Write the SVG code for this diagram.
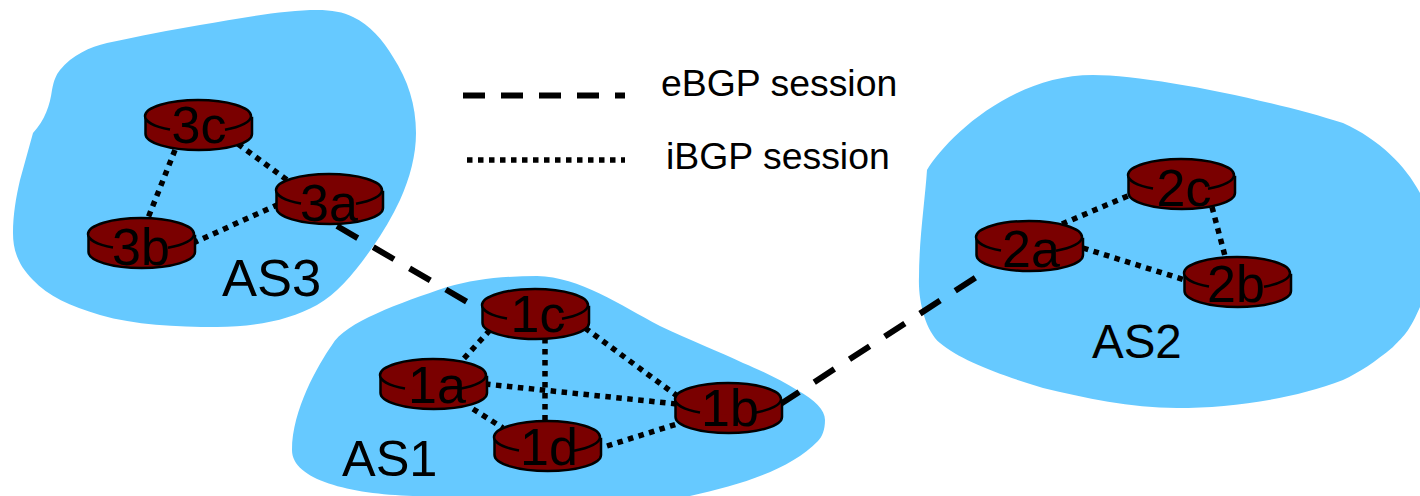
<svg xmlns="http://www.w3.org/2000/svg" xmlns:xlink="http://www.w3.org/1999/xlink" width="1420" height="496" viewBox="0 0 1420 496">
<style>
text{font-family:"Liberation Sans",Arial,sans-serif;fill:#000}
.as{fill:#66c9ff;stroke:none}
.r{font-size:52px;text-anchor:middle}
.leg{font-size:37.4px}
.e{fill:none;stroke:#000;stroke-width:6;stroke-dasharray:24 18}
.l{fill:none;stroke:#000;stroke-width:6;stroke-dasharray:22 16}
.i{fill:none;stroke:#000;stroke-width:5.5;stroke-dasharray:5.5 5.5}
.body{fill:#7a0000;stroke:#000;stroke-width:2.5}
.top{fill:#7a0000;stroke:none}
.rim{fill:none;stroke:#000;stroke-width:2.5}
</style>
<defs>
<g id="router">
<path class="body" d="M0.5,18 V34 A53,16 0 0 0 107,34 V18 Z"/>
<ellipse class="top" cx="53" cy="16" rx="53" ry="16"/>
<path class="rim" d="M25,29.6 A53,16 0 0 1 0,16 A53,16 0 0 1 106,16 A53,16 0 0 1 80,29.8"/>
</g>
</defs>
<g id="AS3"><path class="as" d="M33,133 C45,120 50,105 52,90 C54,80 56,75 60,70 C72,55 90,47 107,43 C140,36 170,30 200,25 C240,18 285,10 317,10 C332,10 343,12 353,17 C370,25 383,40 393,57 C408,80 416,105 416,133 C416,155 410,178 400,200 C392,217 383,232 372,248 C355,272 338,293 317,305 C290,320 255,327 217,327 C175,327 135,325 100,315 C70,306 48,296 33,280 C18,265 13,250 13,233 C13,215 16,197 20,180 Z"/><text x="222" y="296" font-size="52.5">AS3</text></g>
<g id="AS1"><path class="as" d="M292,450 C292,410 318,365 332,345 C345,322 400,303 447,287 C475,279 505,276 537,276 C580,277 620,305 660,326 C690,340 720,352 743,363 C765,372 782,381 797,390 C815,400 825,410 825,420 C825,430 822,437 818,441 C790,470 740,485 690,496 L413,496 C350,494 292,480 292,450 Z"/><text x="342" y="476" font-size="50.5">AS1</text></g>
<g id="AS2"><path class="as" d="M927,170 C945,140 1010,75 1093,75 C1150,75 1270,100 1343,123 C1380,140 1405,165 1420,193 V307 C1410,330 1405,335 1393,347 C1375,362 1360,372 1343,380 C1290,400 1230,408 1177,408 C1130,408 1085,398 1043,388 C1000,375 960,360 940,343 C925,330 918,300 919,277 C919,240 925,200 927,170 Z"/><text x="1092" y="358" font-size="47.5">AS2</text></g>
<g id="connectors">
<path class="e" d="M337,226 L469,303"/>
<path class="e" d="M779,405 L978,276"/>
<path class="i" d="M238,144 L287,180"/>
<path class="i" d="M175,150 L148,218"/>
<path class="i" d="M193,243 L277,205"/>
<path class="i" d="M490,330 L458,365"/>
<path class="i" d="M545,338 L545,421"/>
<path class="i" d="M585,328 L680,398"/>
<path class="i" d="M485,384 L677,404"/>
<path class="i" d="M473,409 L503,428"/>
<path class="i" d="M607,446 L680,423"/>
<path class="i" d="M1062,224 L1130,195"/>
<path class="i" d="M1212,207 L1225,256"/>
<path class="i" d="M1083,248 L1185,280"/>
<path class="l" d="M463,95.5 L625,95.5"/>
<path class="i" d="M467,160 L625,160"/>
</g>
<g id="legend"><text class="leg" x="661" y="96">eBGP session</text><text class="leg" x="666" y="169">iBGP session</text></g>
<g id="r3c"><use xlink:href="#router" href="#router" x="145" y="100"/><text class="r" x="199" y="143">3c</text></g>
<g id="r3a"><use xlink:href="#router" href="#router" x="276" y="174"/><text class="r" x="329" y="221">3a</text></g>
<g id="r3b"><use xlink:href="#router" href="#router" x="88" y="218"/><text class="r" x="141" y="265">3b</text></g>
<g id="r1c"><use xlink:href="#router" href="#router" x="482" y="289"/><text class="r" x="538" y="332">1c</text></g>
<g id="r1a"><use xlink:href="#router" href="#router" x="380" y="359"/><text class="r" x="437" y="403">1a</text></g>
<g id="r1b"><use xlink:href="#router" href="#router" x="675" y="383"/><text class="r" x="730" y="426">1b</text></g>
<g id="r1d"><use xlink:href="#router" href="#router" x="494" y="421"/><text class="r" x="549" y="465">1d</text></g>
<g id="r2c"><use xlink:href="#router" href="#router" x="1128" y="159"/><text class="r" x="1184" y="206">2c</text></g>
<g id="r2a"><use xlink:href="#router" href="#router" x="976" y="221"/><text class="r" x="1031" y="267">2a</text></g>
<g id="r2b"><use xlink:href="#router" href="#router" x="1184" y="257"/><text class="r" x="1236" y="302">2b</text></g>
</svg>
